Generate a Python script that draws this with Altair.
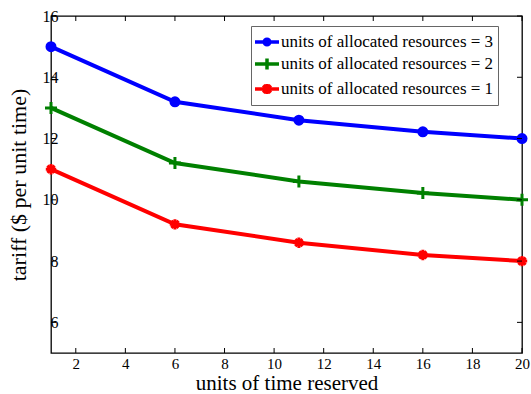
import altair as alt
import pandas as pd

# ---- data ----
x_vals = [1, 6, 11, 16, 20]
series_names = [
    "units of allocated resources = 3",
    "units of allocated resources = 2",
    "units of allocated resources = 1",
]
tariff_3 = [15.0, 13.2, 12.6, 12.22, 12.0]
tariff_2 = [13.0, 11.2, 10.6, 10.22, 10.0]
tariff_1 = [11.0, 9.2, 8.6, 8.2, 8.0]
colors = ["#0000ff", "#008000", "#ff0000"]
x_ticks = [2, 4, 6, 8, 10, 12, 14, 16, 18, 20]
y_ticks = [6, 8, 10, 12, 14, 16]

rows = []
for name, vals in zip(series_names, [tariff_3, tariff_2, tariff_1]):
    for x, v in zip(x_vals, vals):
        rows.append({"time": x, "tariff": v, "series": name})
df = pd.DataFrame(rows)
xt = pd.DataFrame({"v": x_ticks})
yt = pd.DataFrame({"v": y_ticks})

W, H = 471, 337
FONT = "Liberation Serif"

color_scale = alt.Scale(domain=series_names, range=colors)
x_scale = alt.Scale(domain=[1, 20], nice=False, zero=False)
y_scale = alt.Scale(domain=[5, 16], nice=False, zero=False)

PLUS = "M-1.5,0L1.5,0M0,-1.5L0,1.5"
STAR = "M-1.3,0L1.3,0M0,-1.3L0,1.3M-0.9,-0.9L0.9,0.9M-0.9,0.9L0.9,-0.9"
marker_shapes = ["circle", PLUS, STAR]

LEG_3 = "M-1.2,0L1.2,0M-0.28,0A0.28,0.28 0 1,1 0.28,0A0.28,0.28 0 1,1 -0.28,0Z"
LEG_2 = "M-1.2,0L1.2,0M0,-0.55L0,0.55"
LEG_1 = "M-1.2,0L1.2,0M-0.38,-0.38L0.38,0.38M-0.38,0.38L0.38,-0.38M0,-0.5L0,0.5"

legend = alt.Legend(
    orient="none",
    legendX=200,
    legendY=10,
    title=None,
    labelFont=FONT,
    labelFontSize=17,
    labelColor="black",
    labelOffset=2,
    labelLimit=400,
    symbolSize=400,
    symbolStrokeWidth=3.5,
    symbolOpacity=1,
    rowPadding=-4,
    padding=4,
    strokeColor="#666666",
    fillColor="white",
)

x_axis = alt.Axis(
    title="units of time reserved",
    values=x_ticks,
    labelFont=FONT,
    labelFontSize=15,
    labelColor="black",
    labelPadding=3,
    labelFlush=False,
    ticks=False,
    tickSize=0,
    domain=False,
    grid=False,
    titleFont=FONT,
    titleFontSize=21,
    titleFontWeight="normal",
    titleColor="black",
    titleY=36,
    titleBaseline="alphabetic",
)
y_axis = alt.Axis(
    title="tariff ($ per unit time)",
    values=y_ticks,
    labelFont=FONT,
    labelFontSize=16,
    labelColor="black",
    labelAlign="right",
    labelBaseline="middle",
    labelPadding=-7,
    labelFlush=False,
    ticks=False,
    tickSize=0,
    domain=False,
    grid=False,
    titleFont=FONT,
    titleFontSize=22,
    titleFontWeight="normal",
    titleColor="black",
    titleX=-33,
    titleY=H / 2,
    titleBaseline="middle",
    titleAngle=-90,
)

X = alt.X("time:Q", scale=x_scale, axis=x_axis)
Y = alt.Y("tariff:Q", scale=y_scale, axis=y_axis)
C = alt.Color("series:N", scale=color_scale, sort=series_names, legend=legend)

base = alt.Chart(df)
lines = base.mark_line(strokeWidth=4).encode(x=X, y=Y, color=C)

point_layers = []
for name, shp, col in zip(series_names, marker_shapes, colors):
    point_layers.append(
        base.transform_filter(alt.datum.series == name)
        .mark_point(shape=shp, filled=True, size=64, strokeWidth=3, opacity=1, stroke=col)
        .encode(x=X, y=Y, color=C)
    )

# invisible layer that only drives the legend (line + marker symbols)
legend_layer = base.mark_point(filled=False, opacity=0, size=400, strokeWidth=3.5).encode(
    x=X,
    y=Y,
    color=C,
    shape=alt.Shape(
        "series:N",
        scale=alt.Scale(domain=series_names, range=[LEG_3, LEG_2, LEG_1]),
        sort=series_names,
        legend=legend,
    ),
)

tick_len = 5
XT = alt.X("v:Q", scale=x_scale, axis=x_axis)
YT = alt.Y("v:Q", scale=y_scale, axis=y_axis)
left_ticks = alt.Chart(yt).mark_rule(color="black", strokeWidth=1).encode(
    y=YT, x=alt.value(0), x2=alt.value(tick_len)
)
right_ticks = alt.Chart(yt).mark_rule(color="black", strokeWidth=1).encode(
    y=YT, x=alt.value(W - tick_len), x2=alt.value(W)
)
bottom_ticks = alt.Chart(xt).mark_rule(color="black", strokeWidth=1).encode(
    x=XT, y=alt.value(H - tick_len), y2=alt.value(H)
)
top_ticks = alt.Chart(xt).mark_rule(color="black", strokeWidth=1).encode(
    x=XT, y=alt.value(0), y2=alt.value(tick_len)
)

chart = (
    alt.layer(lines, *point_layers, legend_layer, left_ticks, right_ticks, bottom_ticks, top_ticks)
    .properties(
        width=W,
        height=H,
        autosize=alt.AutoSizeParams(type="none"),
        padding={"left": 51, "top": 16, "right": 9, "bottom": 41},
        background="white",
    )
    .configure_view(stroke="black", strokeWidth=1.3)
)

chart.save("out.html", embed_options={"renderer": "svg", "actions": False})
